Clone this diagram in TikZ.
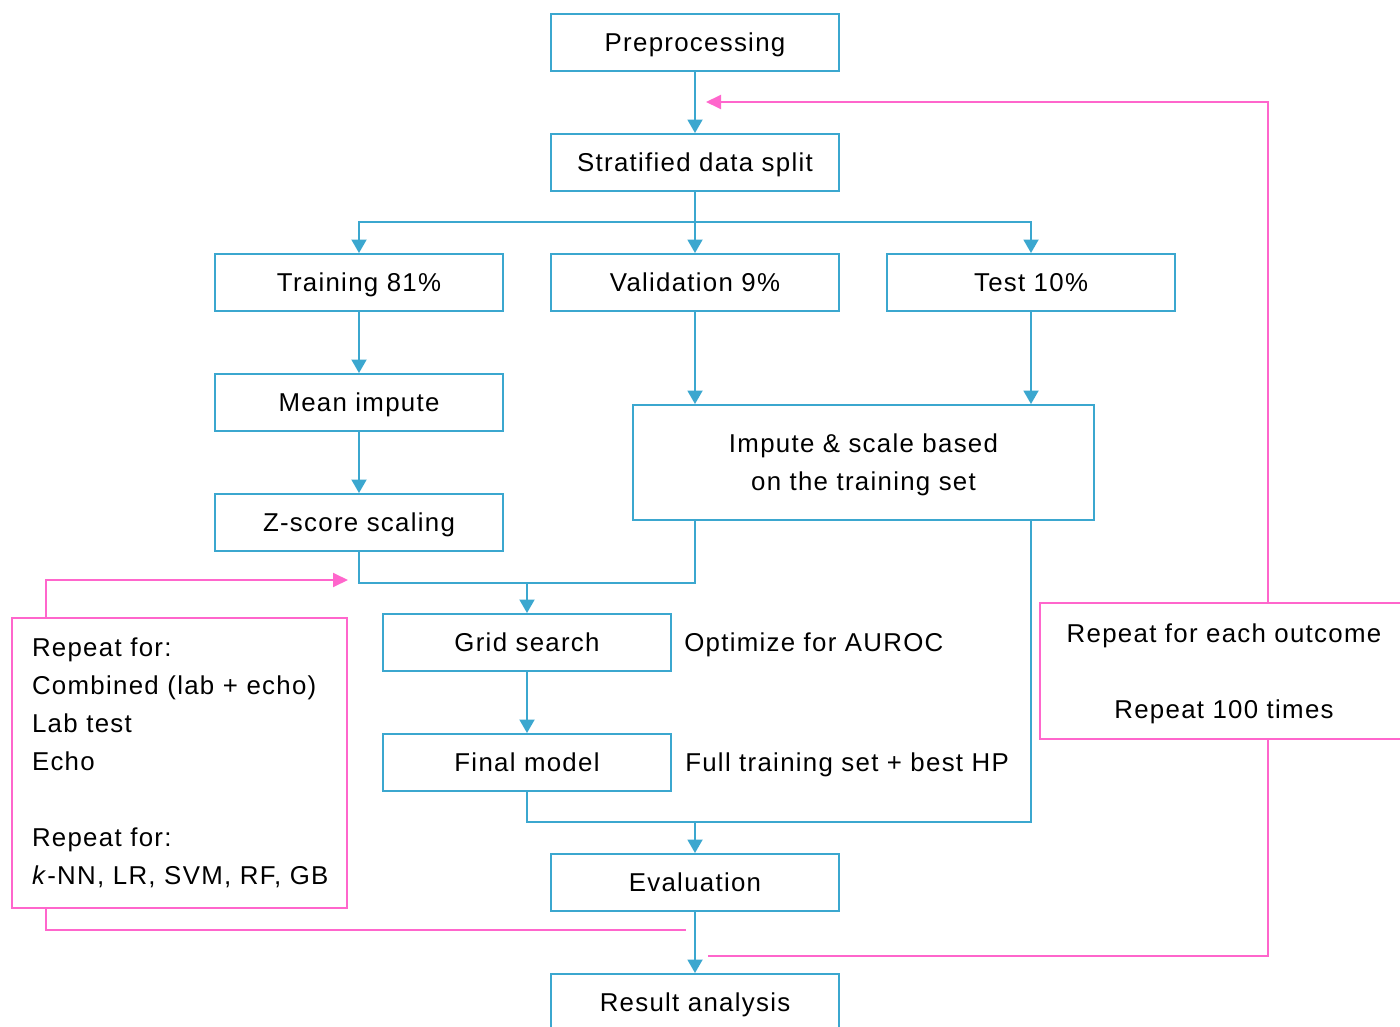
\documentclass[tikz,border=0pt]{standalone}
\usepackage{fontspec}
\setmainfont{Liberation Sans}[LetterSpace=5]
\usetikzlibrary{positioning,arrows.meta}
\definecolor{flowblue}{RGB}{59,167,207}
\definecolor{looppink}{RGB}{255,102,204}
\tikzset{
  stepbox/.style={draw=flowblue, line width=1.1pt, minimum width=5.76cm, minimum height=1.14cm, inner sep=0pt, text depth=0pt, font=\fontsize{14.7}{21.6}\selectfont},
  loopbox/.style={draw=looppink, line width=0.9pt, inner sep=0pt, font=\fontsize{14.7}{21.6}\selectfont},
  sidenote/.style={inner sep=0pt, text depth=0pt, font=\fontsize{14.7}{21.6}\selectfont},
  bline/.style={draw=flowblue, line width=1.1pt},
  barr/.style={bline, -{Triangle[width=0.3cm,length=0.27cm]}},
  pline/.style={draw=looppink, line width=1.1pt},
  parr/.style={pline, -{Triangle[width=0.28cm,length=0.3cm]}},
}

\begin{document}
\begin{tikzpicture}[x=0.02cm, y=-0.02cm]
\useasboundingbox (0,0) rectangle (1400,1027);
\clip (0,0) rectangle (1400,1027);
% Main steps
\node[stepbox] (pre) at (695,42.5) {Preprocessing};
\node[stepbox] (strat) at (695,162.5) {Stratified data split};
\node[stepbox] (train) at (359,282.5) {Training 81\%};
\node[stepbox] (val) at (695,282.5) {Validation 9\%};
\node[stepbox] (test) at (1031,282.5) {Test 10\%};
\node[stepbox] (mean) at (359,402.5) {Mean impute};
\node[stepbox] (zs) at (359,522.5) {Z-score scaling};
\node[stepbox, minimum width=9.22cm, minimum height=2.3cm, align=center] (imp) at (863.5,462.5) {Impute \& scale based\\on the training set};
\node[stepbox] (grid) at (527,642.5) {Grid search};
\node[stepbox] (fin) at (527,762.5) {Final model};
\node[stepbox] (eval) at (695,882.5) {Evaluation};
\node[stepbox] (res) at (695,1002.5) {Result analysis};
% Side notes
\node[sidenote, right=0.24cm of grid] (auroc) {Optimize for AUROC};
\node[sidenote, right=0.26cm of fin] (hp) {Full training set + best HP};
% Repeat boxes
\node[loopbox, text width=5.9cm, inner xsep=0.4cm, minimum height=5.8cm, align=left] (rep1) at (179.5,763) {Repeat for:\\Combined (lab + echo)\\Lab test\\Echo\\[21.6pt]Repeat for:\\\mbox{\textit{k}-NN, LR, SVM, RF, GB}};
\node[loopbox, text depth=0pt, minimum width=7.36cm, minimum height=2.72cm, align=center] (rep2) at (1224,671) {Repeat for each outcome\\[21.6pt]Repeat 100 times};
% Blue flow
\draw[barr] (pre) -- (strat);
\draw[barr] (strat) -- (val);
\draw[barr] (strat.south) -- ++(0,30) -| (train);
\draw[barr] (strat.south) -- ++(0,30) -| (test);
\draw[barr] (train) -- (mean);
\draw[barr] (mean) -- (zs);
\draw[barr] (val) -- (val.south |- imp.north);
\draw[barr] (test) -- (test.south |- imp.north);
\coordinate (mj) at (527,583);
\draw[bline] (zs.south) |- (mj) -| (val.south |- imp.south);
\draw[barr] (mj) -- (grid);
\draw[barr] (grid) -- (fin);
\coordinate (ej) at (695,822);
\draw[bline] (fin.south) |- (ej) -| (test.south |- imp.south);
\draw[barr] (ej) -- (eval);
\draw[barr] (eval) -- (res);
% Pink loops
\coordinate (lx) at (46,580);
\coordinate (lin) at (348,580);
\coordinate (lout) at (686,930);
\draw[parr] (rep1.north -| lx) |- (lin);
\draw[pline] (rep1.south -| lx) |- (lout);
\coordinate (rx) at (1268,102);
\coordinate (rin) at (706,102);
\coordinate (rout) at (708,956);
\draw[parr] (rep2.north -| rx) |- (rin);
\draw[pline] (rep2.south -| rx) |- (rout);
\end{tikzpicture}
\end{document}
